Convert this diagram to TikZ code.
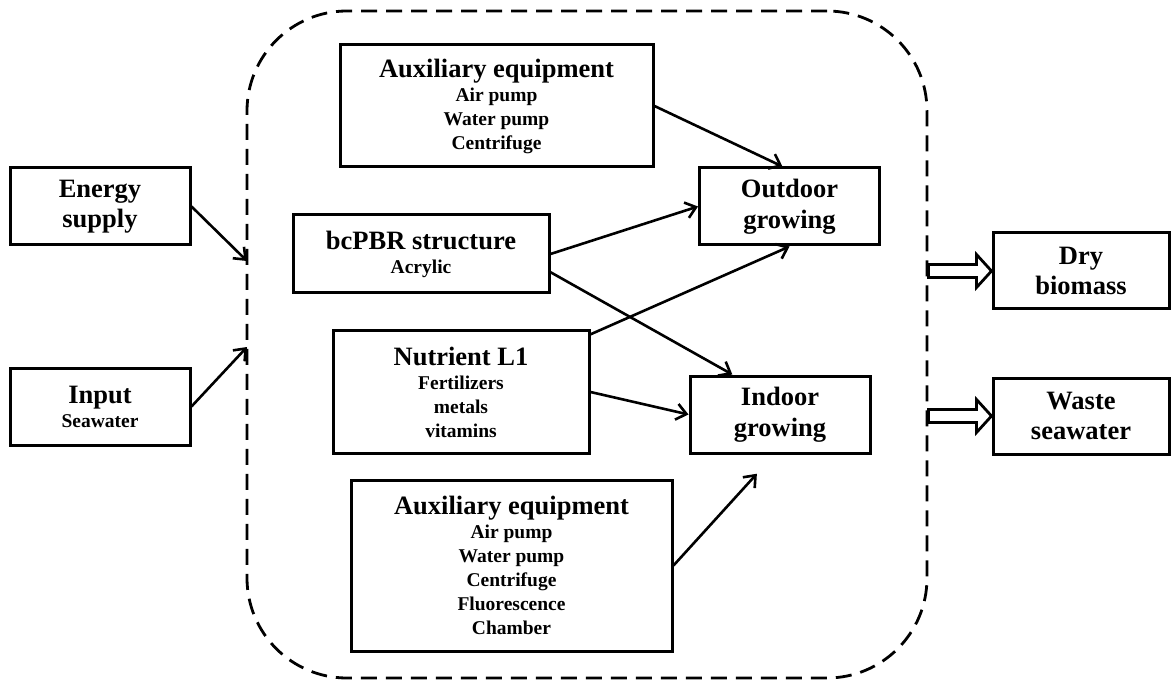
\documentclass[tikz,border=0pt]{standalone}
\usepackage{fontspec}
\setmainfont{Liberation Serif}
\usetikzlibrary{positioning}
\usetikzlibrary{calc}
\usetikzlibrary{arrows.meta}
\newcommand{\hd}[1]{{\fontsize{26.5}{30.5}\selectfont #1}}

\begin{document}
\begin{tikzpicture}[x=1pt,y=-1pt,
  box/.style={draw,line width=3pt,align=center,inner sep=2pt},
  big/.style={box,minimum width=180pt,minimum height=77pt,font=\fontsize{26.5}{30.5}\selectfont\bfseries},
  lst/.style={box,font=\fontsize{19.5}{24}\selectfont\bfseries},
  link/.style={line width=2.6pt,-{Straight Barb[length=10pt,width=16pt]}},
  fat/.style={line width=2.8pt,fill=white,line join=miter},
  frame/.style={draw,line width=2.8pt,dash pattern=on 16pt off 9pt,rounded corners=100pt,minimum width=680pt,minimum height=667pt}]

  \useasboundingbox (0,0) rectangle (1172,684);

  % the dashed system boundary
  \node[frame] (sys) at (587,344.5) {};

  % what goes in, on the left
  \node[big] (energy) at (100,206.5) {Energy\\supply};
  \node[lst, minimum width=180pt, minimum height=77pt, below=120pt of energy] (input) {\hd{Input}\\Seawater};

  % parts inside the boundary
  \node[lst, minimum width=313pt, minimum height=122pt] (auxa) at (496.5,106) {\hd{Auxiliary equipment}\\Air pump\\Water pump\\Centrifuge};
  \node[lst, minimum width=256pt, minimum height=78pt] (bcpbr) at (421,254) {\hd{bcPBR structure}\\Acrylic};
  \node[lst, minimum width=256pt, minimum height=122pt] (nutr) at (461,392) {\hd{Nutrient L1}\\Fertilizers\\metals\\vitamins};
  \node[lst, minimum width=321pt, minimum height=171pt] (auxb) at (511.5,565.5) {\hd{Auxiliary equipment}\\Air pump\\Water pump\\Centrifuge\\Fluorescence\\Chamber};
  \node[big] (outdoor) at (789.5,206.5) {Outdoor\\growing};
  \node[big] (indoor) at (780,414.5) {Indoor\\growing};

  % what comes out, on the right
  \node[big, minimum width=176pt, minimum height=76pt] (dry) at (1081,271) {Dry\\biomass};
  \node[big, minimum width=176pt, minimum height=76pt, below=66pt of dry] (waste) {Waste\\seawater};

  \coordinate (inE) at (247,261);
  \coordinate (inI) at (247,347);

  \draw[link] (energy.east) -- (inE);
  \draw[link] (input.east) -- (inI);
  \draw[link] (auxa.east) -- (outdoor.100);
  \draw[link] (bcpbr.east) -- (outdoor.west);
  \draw[link] (bcpbr.-8) -- (indoor.140);
  \draw[link] (nutr.24) -- (outdoor.south);
  \draw[link] (nutr.east) -- (indoor.west);
  \draw[link,shorten >=26pt] (auxb.east) -- (indoor.-98);

  % hollow outlet arrows
  \foreach \o in {dry,waste}
    \draw[fat] ($(sys.east |- \o.west)+(0,-6.5)$) -- ($(\o.west)+(-15,-6.5)$) -- ++(0,-10) -- (\o.west)
      -- ++(-15,16.5) -- ++(0,-10) -- ($(sys.east |- \o.west)+(0,6.5)$) -- cycle;
\end{tikzpicture}
\end{document}
